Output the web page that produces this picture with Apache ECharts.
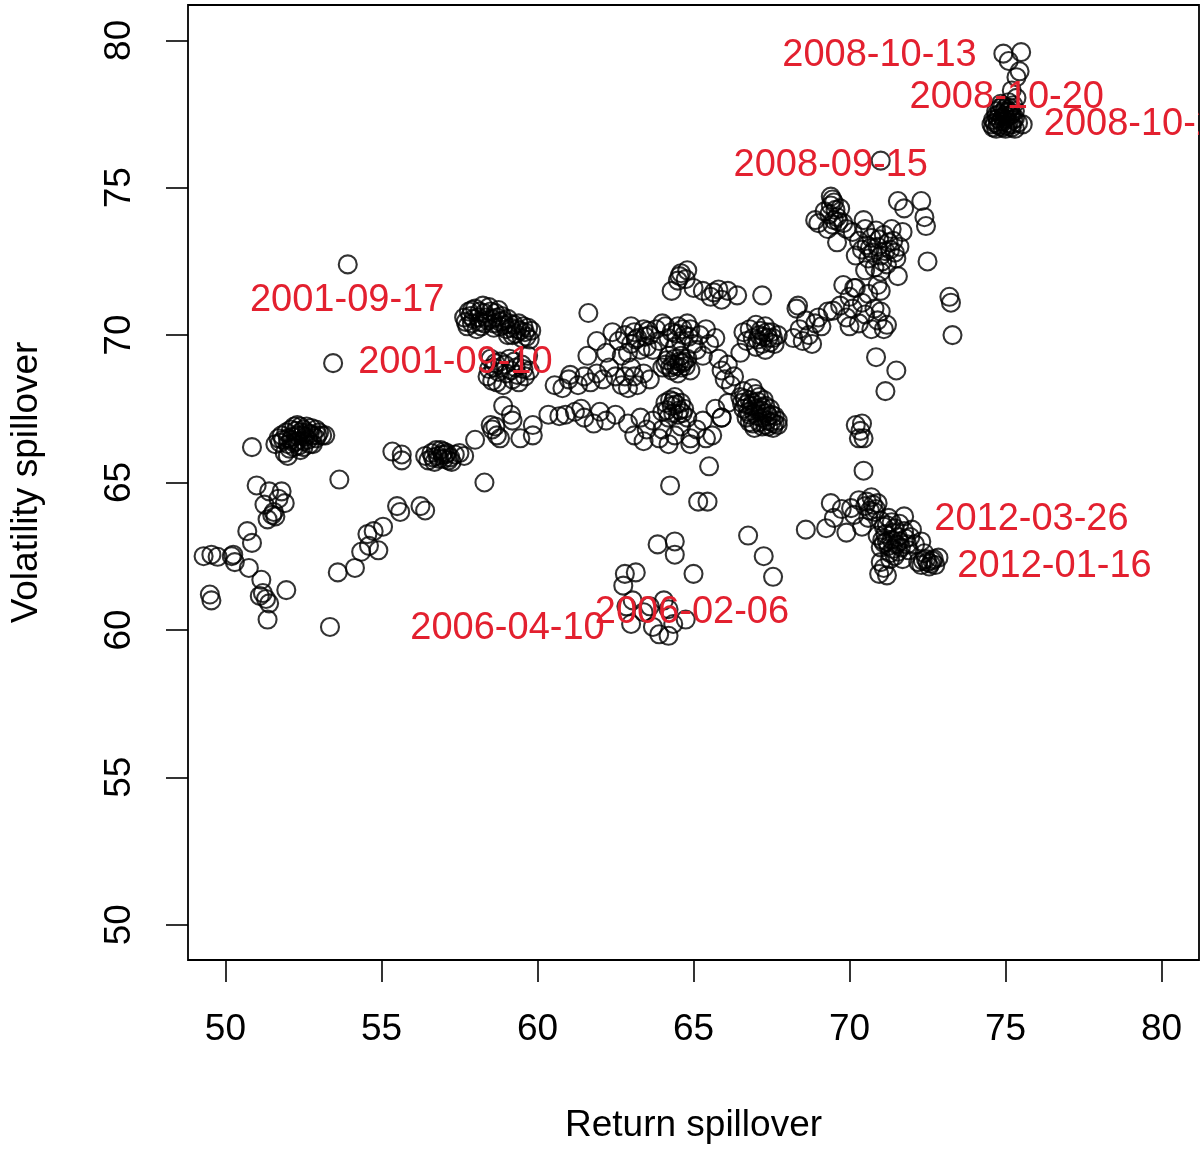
<!DOCTYPE html>
<html>
<head>
<meta charset="utf-8">
<title>Return vs volatility spillover</title>
<script src="https://cdn.jsdelivr.net/npm/echarts@6/dist/echarts.min.js"></script>
<style>
html, body { margin: 0; padding: 0; background: #fff; }
#main { width: 1201px; height: 1149px; }
</style>
</head>
<body>
<div id="main"></div>
<script>
// [return spillover, volatility spillover] pairs, grouped by region of the cloud
var farLeft = [[49.3,62.5],[49.55,62.55],[49.75,62.48],[50.2,62.5],[50.3,62.3],[50.25,62.55],[49.5,61.2],[49.55,61.0],
  [50.75,62.1],[51.15,61.7],[51.1,61.15],[51.3,61.05],[51.4,60.9],[51.95,61.35],[51.35,60.35],[50.7,63.35],[50.85,62.95],[51.2,61.25]];
var leftMid = [[51.0,64.9],[51.4,64.7],[51.8,64.7],[51.7,64.45],[51.25,64.25],[51.55,64.0],[51.6,63.85],[51.5,63.9],[51.35,63.75],[51.9,64.3],[50.85,66.2]];
var leftDense = [[51.6,66.3],[51.8,66.6],[51.9,66.0],[52.0,66.5],[52.1,66.8],[52.2,66.2],[52.3,66.6],[52.4,66.9],[52.5,66.4],[52.6,66.7],
  [52.7,66.3],[52.8,66.6],[52.9,66.5],[53.0,66.7],[53.1,66.6],[52.0,66.3],[52.3,66.4],[52.6,66.9],[52.2,66.9],[51.7,66.5],
  [52.4,66.1],[52.8,66.3],[52.5,66.8],[52.0,65.9],[53.2,66.6],[52.9,66.8],[52.15,66.55],[52.45,66.6],
  [51.75,66.35],[51.95,66.7],[52.05,66.15],[52.25,66.75],[52.35,66.25],[52.55,66.55],[52.65,66.45],[52.75,66.85],
  [52.1,66.45],[52.4,66.7],[52.2,66.35],[51.85,66.45],[52.7,66.65],[52.5,66.2],[52.95,66.6],[52.3,66.95]];
var leftSingles = [[53.45,69.05],[53.65,65.1],[53.92,72.4],[53.35,60.1],[53.6,61.95],[54.15,62.1],[54.35,62.65],[54.6,62.85],
  [54.55,63.25],[54.75,63.35],[55.05,63.5],[54.9,62.7],[55.5,64.2],[55.6,64.0],[56.25,64.2],[56.4,64.05],[55.35,66.05],[55.65,65.95],[55.65,65.75]];
var band56 = [[56.4,65.9],[56.6,66.0],[56.7,65.7],[56.8,65.9],[56.9,66.1],[57.0,65.8],[57.1,66.0],[57.2,65.85],[57.35,65.95],[57.5,66.0],
  [57.65,65.9],[56.5,65.75],[57.0,66.05],[56.75,66.1],[57.25,65.7],[56.85,65.8],[57.05,65.95],[56.65,65.85],[57.15,65.75],[56.95,65.95]];
var rise58 = [[58.0,66.45],[58.3,65.0],[58.55,66.8],[58.7,66.6],[58.8,66.5],[58.65,66.9],[58.9,67.6],[59.2,67.1],[59.45,66.5],[59.85,66.6],
  [59.85,66.95],[60.35,67.3],[60.7,67.25],[60.55,68.3],[59.15,67.3],[58.5,66.95],[61.05,68.65]];
var sept2001 = [[57.65,70.6],[57.8,70.8],[57.9,70.4],[58.0,70.9],[58.1,70.6],[58.2,70.3],[58.3,70.75],[58.4,70.5],[58.5,70.8],[58.6,70.4],
  [58.7,70.6],[58.8,70.3],[58.9,70.5],[59.0,70.2],[59.1,70.4],[59.2,70.0],[59.35,70.2],[59.5,69.9],[59.6,70.1],[59.75,69.85],
  [59.8,70.15],[57.75,70.3],[58.05,70.2],[58.45,70.95],[58.25,71.0],[58.75,70.85],[59.25,70.35],[59.55,70.3],
  [57.7,70.45],[57.85,70.65],[57.95,70.55],[58.15,70.8],[58.15,70.45],[58.35,70.6],[58.55,70.55],[58.65,70.75],[58.85,70.65],
  [58.95,70.35],[59.05,70.55],[59.15,70.25],[59.3,70.05],[59.45,70.15],[59.65,69.95],[57.9,70.85],[58.3,70.4],[58.6,70.25],
  [58.8,70.45],[59.05,70.0],[59.4,70.4],[59.7,70.25],
  [58.4,68.6],[58.6,68.9],[58.7,68.4],[58.8,69.1],[59.0,68.7],[59.1,69.2],[59.2,68.5],[59.3,68.9],[59.5,69.0],[59.6,68.6],
  [59.75,68.8],[58.5,69.2],[58.9,68.3],[59.4,68.4],[59.7,69.3],[58.55,68.45],[58.45,68.85],[58.75,68.75],[58.95,69.0],
  [59.15,68.8],[59.35,68.65],[59.55,68.85],[58.65,69.05],[59.25,69.1]];
var mid61 = [[60.8,68.2],[61.0,68.5],[61.3,68.3],[61.5,68.6],[61.7,68.4],[61.9,68.7],[62.1,68.5],[62.3,68.9],[62.5,68.6],[62.7,68.3],
  [61.6,69.3],[61.9,69.8],[62.2,69.4],[62.4,70.1],[61.2,67.4],[61.5,67.2],[61.8,67.0],[62.0,67.4],[62.2,67.1],[62.5,67.3],
  [61.4,67.5],[60.9,67.3],[61.63,70.75]];
var band64 = [[62.6,69.8],[62.8,70.0],[63.0,69.7],[63.1,70.1],[63.2,69.9],[63.4,70.2],[63.5,69.6],[63.6,70.0],[63.8,70.2],[63.9,69.8],
  [64.1,70.3],[64.2,69.9],[64.3,70.1],[64.5,70.3],[64.6,69.8],[64.7,70.0],[64.9,70.2],[65.0,69.7],[65.2,70.0],[65.4,70.2],
  [65.5,69.7],[65.7,69.9],[63.3,69.5],[62.9,69.4],[63.7,69.5],[64.4,69.6],[65.1,69.5],[65.3,69.3],[62.7,69.3],[63.0,70.3],
  [64.0,70.4],[64.8,70.4],[63.15,69.85],[63.45,69.95],[63.55,70.15],[64.45,70.05],[64.65,70.2],[64.85,69.95],
  [64.1,69.0],[64.3,68.8],[64.4,69.2],[64.6,68.9],[64.7,69.1],[64.9,68.8],[64.2,69.3],[64.5,68.7],[64.8,69.2],[64.0,68.9],
  [64.6,69.3],[64.35,69.0],[64.15,69.15],[64.45,68.95],[64.55,69.1],[64.75,68.95],[64.25,68.9],[64.65,69.05],
  [62.8,68.6],[63.0,68.9],[63.2,68.3],[63.4,68.7],[63.6,68.5],[63.1,68.6],[62.9,68.2]];
var top65 = [[64.3,71.5],[64.5,71.85],[64.6,72.1],[64.8,72.2],[65.0,71.6],[65.3,71.5],[65.55,71.3],[65.8,71.55],[65.9,71.2],[66.1,71.5],
  [66.4,71.35],[67.2,71.35],[64.75,71.9],[64.55,72.0],[65.65,71.45]];
var low64 = [[64.0,67.4],[64.1,67.7],[64.2,67.2],[64.3,67.6],[64.4,67.9],[64.5,67.3],[64.6,67.7],[64.7,67.5],[64.8,67.2],[64.25,67.8],
  [64.55,67.45],[64.15,67.45],[64.35,67.35],[64.45,67.65],[64.65,67.35],[64.35,67.75],
  [62.9,67.0],[63.1,66.6],[63.3,67.2],[63.5,66.8],[63.7,67.1],[63.9,66.5],[64.0,66.8],[64.2,66.3],[64.4,66.6],[64.6,66.9],
  [64.9,66.5],[65.1,66.8],[65.3,67.1],[65.6,66.6],[65.9,67.2],[63.4,66.4],[64.9,66.3],[65.4,66.5]];
var cross67 = [[65.8,69.2],[65.9,68.8],[66.0,68.5],[66.1,69.0],[66.2,68.3],[66.3,68.6],[65.7,67.5],[65.9,67.2],[66.1,67.7],[66.5,67.9],
  [66.6,67.5],[66.7,67.2],[66.8,67.8],[66.9,67.0],[67.0,67.5],[67.1,67.9],[67.2,67.2],[67.3,67.6],[67.4,66.9],[67.5,67.3],
  [67.6,67.0],[67.7,67.1],[66.6,68.1],[66.9,68.2],[67.2,66.9],[66.8,67.3],[67.05,67.25],[67.35,67.35],[66.95,66.85],[67.55,66.85],
  [66.7,67.65],[67.0,68.0],[66.65,67.85],[66.75,67.4],[66.85,67.6],[66.95,67.35],[67.05,67.75],[67.15,67.45],[67.25,67.8],
  [67.35,67.1],[67.45,67.5],[67.6,67.25],[67.7,66.95],[66.8,67.05],[67.1,67.05],[67.3,66.95],[67.5,67.05],[66.55,67.7],
  [66.9,67.7],[67.2,67.55],[67.4,67.25],
  [66.5,69.4],[66.7,69.8],[66.8,70.2],[67.0,69.6],[67.1,70.0],[67.2,69.7],[67.3,70.3],[67.4,69.9],[67.5,70.1],[67.6,69.7],
  [67.7,70.0],[66.6,70.1],[67.0,70.35],[67.3,69.5],[66.9,69.9],[67.15,70.15],[67.05,69.85],[67.25,69.95],[67.45,69.75],
  [67.35,70.1],[67.55,69.9],
  [68.2,69.9],[68.4,70.2],[68.5,69.8],[68.7,70.0],[68.9,70.4],[69.0,70.6],[69.1,70.3],[68.3,70.9],[68.8,69.7],[69.3,70.8],
  [68.6,70.5],[68.35,71.0],[69.47,70.83]];
var climb2008 = [[69.0,73.8],[69.2,74.2],[69.4,74.7],[69.5,74.5],[69.6,74.0],[69.8,73.8],[69.3,73.6],[69.5,73.9],[69.7,74.3],[69.9,73.6],
  [69.45,74.6],[69.6,73.15],[68.9,73.9],[70.45,73.9],[69.35,74.1],[69.55,74.25],[69.45,73.75],[69.65,73.85],[69.4,74.4],
  [70.1,73.5],[70.3,73.2],[70.4,72.9],[70.5,73.6],[70.6,72.6],[70.7,73.3],[70.8,72.3],[70.9,73.0],[71.0,72.7],[71.1,73.4],
  [71.2,72.4],[71.3,72.9],[71.4,73.2],[71.5,72.6],[71.6,73.0],[71.7,73.5],[70.2,72.7],[70.5,72.2],[71.0,72.15],[71.35,73.6],
  [70.85,73.55],[70.55,73.05],[70.75,72.8],[70.95,73.25],[71.15,72.85],[71.25,73.15],[71.45,72.8],[70.65,72.95],[71.05,72.5],
  [71.55,74.55],[71.75,74.3],[72.3,74.55],[72.4,74.0],[72.45,73.7],[72.5,72.5],[73.2,71.3],[73.25,71.1],[73.3,70.0],[71.55,72.0],
  [70.9,71.7],[71.0,71.5],[70.85,69.25],[71.5,68.8],[71.15,68.1],
  [69.7,71.0],[69.8,71.7],[69.9,70.6],[70.0,71.3],[70.1,70.9],[70.2,71.6],[70.3,70.4],[70.4,71.1],[70.5,70.7],[70.6,71.4],
  [70.7,70.2],[70.8,70.9],[70.9,70.5],[71.0,70.8],[71.1,70.2],[71.2,70.35],[70.15,71.6],[70.0,70.3],[71.0,75.92]];
var oct2008 = [[74.93,79.55],[75.1,79.3],[75.5,79.6],[75.45,78.95],[75.35,78.75],[75.35,78.05],[75.2,78.3],
  [74.6,77.3],[74.7,77.6],[74.8,77.1],[74.9,77.4],[75.0,77.7],[75.1,77.2],[75.2,77.5],[75.3,77.0],[75.0,77.0],[74.7,77.0],
  [74.85,77.85],[75.1,77.9],[75.25,77.8],[74.55,77.15],[75.4,77.2],[75.55,77.15],[74.95,77.25],[75.15,77.45],[74.75,77.35],
  [75.05,77.55],[74.9,77.05],[75.3,77.35],[74.65,77.2],[74.8,77.5],[74.85,77.25],[75.0,77.35],[75.05,77.1],[75.2,77.15],
  [74.95,77.6],[75.15,77.7],[75.25,77.3],[74.75,77.15],[74.9,77.75],[75.1,77.6],[74.6,77.05],[75.2,77.05],[75.0,77.45],
  [75.3,77.6],[74.8,77.7],[74.7,77.45]];
var low2012 = [[69.4,64.3],[69.25,63.45],[69.5,63.8],[69.75,64.1],[70.05,64.13],[70.15,63.9],[70.3,64.4],[70.5,64.2],[70.6,63.8],
  [70.7,64.5],[70.8,64.0],[70.9,64.3],[71.0,63.7],[70.4,63.5],[69.9,63.3],[70.55,64.35],[70.65,64.05],[70.75,64.25],[70.85,64.1],
  [70.9,63.2],[71.0,62.8],[71.1,63.5],[71.2,63.0],[71.3,62.6],[71.4,63.3],[71.5,62.9],[71.6,63.6],[71.7,62.4],[71.8,63.1],
  [71.9,62.7],[72.0,63.4],[72.1,62.9],[72.2,62.3],[71.25,63.8],[71.45,62.5],[71.75,63.85],[72.3,63.0],
  [71.05,63.05],[71.15,63.25],[71.25,62.85],[71.35,63.05],[71.45,63.45],[71.55,63.15],[71.65,62.8],[71.75,63.35],
  [71.85,62.9],[71.95,63.15],[71.3,62.4],[71.55,62.65],[71.2,63.55],[71.4,62.75],[71.6,63.0],[71.1,62.95],[71.35,63.65],
  [72.3,62.2],[72.45,62.4],[72.55,62.15],[72.65,62.35],[72.75,62.2],[72.85,62.45],[72.4,62.6],[72.5,62.3],[72.6,62.25],
  [72.7,62.4],[72.35,62.35],
  [70.95,61.9],[71.1,62.1],[71.2,61.85],[71.0,62.3],
  [70.2,66.95],[70.35,66.75],[70.45,66.5],[70.3,66.5],[70.4,67.0],[70.45,65.4]];
var lowMid = [[65.5,65.55],[64.25,64.9],[65.15,64.35],[65.45,64.35],[66.75,63.2],[67.25,62.5],[67.55,61.8],[68.6,63.4],[63.85,62.9],
  [64.4,63.0],[64.4,62.55],[65.0,61.9],
  [62.8,61.9],[63.15,61.95],[62.75,61.5],[62.85,60.8],[63.0,60.2],[63.05,61.0],[63.6,60.8],[63.7,60.1],[63.9,59.85],
  [64.2,59.8],[64.35,60.2],[64.75,60.35],[64.2,60.7],[64.05,61.0],[63.4,60.6]];

// dates written on the chart and the data position of each label's centre
var labelText = ['2008-10-13', '2008-10-20', '2008-10-27', '2008-09-15', '2001-09-17', '2001-09-10',
  '2006-04-10', '2006-02-06', '2012-03-26', '2012-01-16'];
var labelX = [70.96, 75.04, 79.34, 69.40, 53.90, 57.37, 59.04, 64.95, 75.83, 76.57];
var labelY = [79.66, 78.23, 77.32, 75.92, 71.34, 69.23, 60.22, 60.77, 63.93, 62.33];

var ticks = [50, 55, 60, 65, 70, 75, 80];

var points = [].concat(farLeft, leftMid, leftDense, leftSingles, band56, rise58, sept2001, mid61,
  band64, top65, low64, cross67, climb2008, oct2008, low2012, lowMid);

var FONT = '"Liberation Sans", Arial, Helvetica, sans-serif';

var labels = labelText.map(function (t, i) { return [labelX[i], labelY[i], t]; });

var chart = echarts.init(document.getElementById('main'));

function axisOf(name, isY) {
  return {
    type: 'value',
    min: 48.8,
    max: 81.2,
    name: name,
    nameLocation: 'middle',
    nameGap: isY ? 143 : 147,
    nameTextStyle: { fontFamily: FONT, fontSize: 37, color: '#000' },
    axisLine: { show: false },
    splitLine: { show: false },
    axisTick: {
      show: true,
      inside: false,
      length: 22,
      customValues: ticks,
      lineStyle: { color: '#000', width: 1.6 }
    },
    axisLabel: {
      customValues: ticks,
      rotate: isY ? 90 : 0,
      margin: isY ? 50 : 51,
      fontFamily: FONT,
      fontSize: 37,
      color: '#000'
    }
  };
}

chart.setOption({
  animation: false,
  backgroundColor: '#fff',
  grid: {
    left: 188, right: 2, top: 5, bottom: 187,
    show: true,
    borderColor: '#000',
    borderWidth: 1.8,
    backgroundColor: 'transparent'
  },
  xAxis: axisOf('Return spillover', false),
  yAxis: axisOf('Volatility spillover', true),
  series: [
    {
      type: 'scatter',
      data: points,
      symbol: 'circle',
      symbolSize: 18,
      itemStyle: { color: 'rgba(0,0,0,0)', borderColor: '#000', borderWidth: 2.1 },
      emphasis: { disabled: true },
      z: 2
    },
    {
      type: 'custom',
      data: labels,
      clip: true,
      z: 3,
      renderItem: function (params, api) {
        var p = api.coord([api.value(0), api.value(1)]);
        return {
          type: 'text',
          x: p[0],
          y: p[1] + 5,
          style: {
            text: labels[params.dataIndex][2],
            fill: '#e3202f',
            font: '38px ' + FONT,
            align: 'center',
            verticalAlign: 'middle'
          }
        };
      }
    }
  ]
});
</script>
</body>
</html>
